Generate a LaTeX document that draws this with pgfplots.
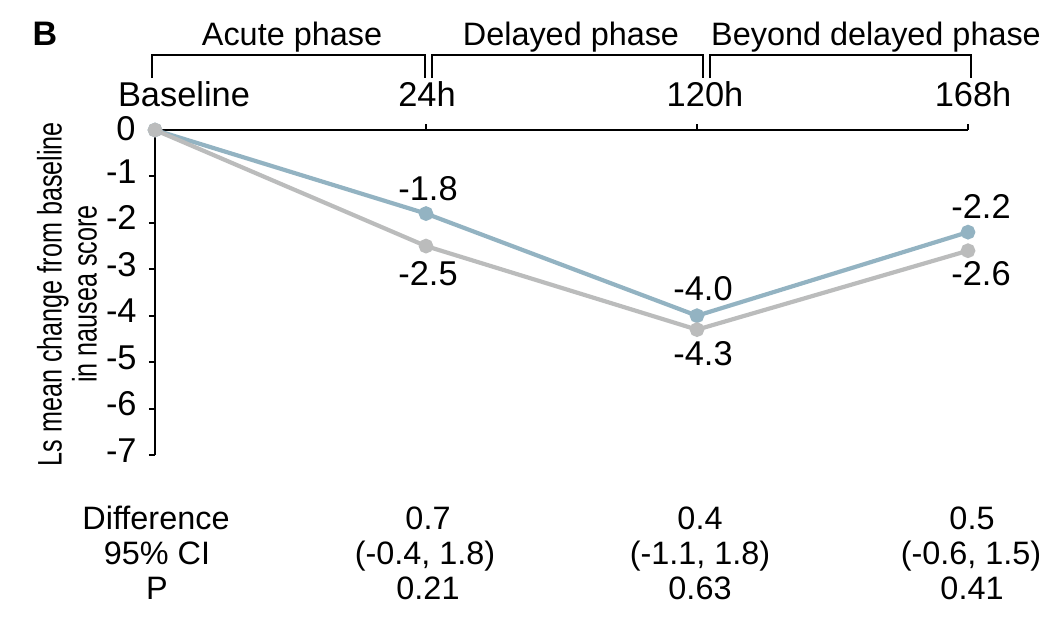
\documentclass[border=0pt]{standalone}
\usepackage{pgfplots}
\pgfplotsset{compat=1.18}
\usepackage{pgfplotstable}
\usepackage{fontspec}
\setmainfont{Liberation Sans}
\newfontfamily\narrowfont[FakeStretch=0.74]{Liberation Sans}
\definecolor{cblue}{HTML}{93B3C2}
\definecolor{cgray}{HTML}{BBBCBC}
\pgfplotstableread{
x y
0 0
1 -1.8
2 -4.0
3 -2.2
}\drugA
\pgfplotstableread{
x y
0 0
1 -2.5
2 -4.3
3 -2.6
}\drugB
\begin{document}
\begin{tikzpicture}[font=\fontsize{16.5}{18}\selectfont, every node/.style={inner sep=0.5pt}]
\begin{axis}[
 scale only axis, width=406.5pt, height=162.5pt,
 xmin=0, xmax=3, ymin=-7, ymax=0, enlargelimits=false, clip=false,
 axis x line*=top, axis y line*=left,
 axis line style={-, line width=1pt},
 xtick={1,2,3}, xticklabels={,,},
 ytick={-7,-6,-5,-4,-3,-2,-1}, yticklabels={,,,,,,},
 tick align=outside, major tick length=3pt,
 tick style={line width=1pt, black},
]
\addplot[cblue, line width=2.1pt, mark=*, mark size=2.6pt, mark options={solid}] table {\drugA};
\addplot[cgray, line width=2.1pt, mark=*, mark size=2.6pt, mark options={solid}] table {\drugB};
\coordinate (O) at (axis cs:0,0);
\end{axis}
\begin{scope}[shift={(O)}, x=0.5pt, y=-0.5pt, shift={(-155,-130)}]
\path (0,0) rectangle (1052,618);
% panel letter
\node[anchor=base, font=\fontsize{17}{18}\selectfont\bfseries] at (45,45) {B};
% phase titles
\begin{scope}[font=\fontsize{16.2}{18}\selectfont]
\node[anchor=base] at (292,45) {Acute phase};
\node[anchor=base] at (571,45) {Delayed phase};
\node[anchor=base] at (876,45) {Beyond delayed phase};
\end{scope}
% brackets
\draw[line width=1pt] (152,78) -- (152,55) -- (425,55) -- (425,78);
\draw[line width=1pt] (432,78) -- (432,55) -- (703,55) -- (703,78);
\draw[line width=1pt] (710,78) -- (710,55) -- (971,55) -- (971,78);
\begin{scope}[font=\fontsize{17.2}{18}\selectfont]
% time labels
\node[anchor=base] at (184,106) {Baseline};
\node[anchor=base] at (427,106) {24h};
\node[anchor=base] at (705,106) {120h};
\node[anchor=base] at (973,106) {168h};
% y tick labels
\node[anchor=base east, inner sep=0pt] at (136,140) {0};
\foreach \v/\t in {1/-1,2/-2,3/-3,4/-4,5/-5,6/-6,7/-7}
  \node[anchor=base east, inner sep=0pt] at (137,{130+\v*46.43+7}) {\t};
% data labels
\node[anchor=base] at (428,200) {-1.8};
\node[anchor=base] at (428,285) {-2.5};
\node[anchor=base] at (703,300) {-4.0};
\node[anchor=base] at (703,365) {-4.3};
\node[anchor=base] at (981,218) {-2.2};
\node[anchor=base] at (981,285) {-2.6};
\end{scope}
% y label
\node[rotate=90, align=center, font=\fontsize{17}{17.5}\selectfont\narrowfont] at (67,294)
  {Ls mean change from baseline\\in nausea score};
% table
\begin{scope}[font=\fontsize{16.2}{18}\selectfont]
\node[anchor=base] at (156,529) {Difference};
\node[anchor=base] at (428,529) {0.7};
\node[anchor=base] at (700,529) {0.4};
\node[anchor=base] at (972,529) {0.5};
\node[anchor=base] at (157,564) {95\% CI};
\node[anchor=base] at (425,564) {(-0.4, 1.8)};
\node[anchor=base] at (700,564) {(-1.1, 1.8)};
\node[anchor=base] at (971,564) {(-0.6, 1.5)};
\node[anchor=base] at (157,599) {P};
\node[anchor=base] at (428,599) {0.21};
\node[anchor=base] at (700,599) {0.63};
\node[anchor=base] at (972,599) {0.41};
\end{scope}
\end{scope}
\end{tikzpicture}
\end{document}
